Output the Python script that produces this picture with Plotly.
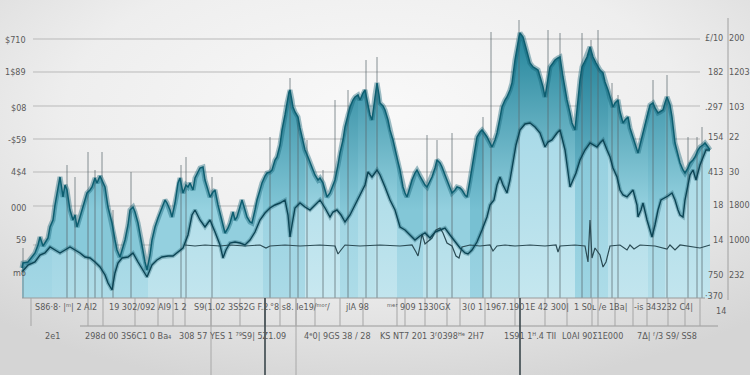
import base64
import numpy as np
import plotly.graph_objects as go

# ---------------- data (trading-day index, value) ----------------
days_upper = [0, 1, 6, 9, 13, 16, 18, 21, 23, 26, 28, 31, 33, 35, 38, 40, 41, 43, 45, 48, 51, 53, 55, 58, 61, 63, 65, 68, 70, 73,
              75, 78, 80, 83, 86, 88, 90, 93, 95, 98, 100, 103, 106, 108, 111, 113, 116, 118, 121, 123, 125, 128, 130, 133, 136, 140,
              143, 145, 148, 150, 153, 156, 158, 161, 164, 166, 168, 171, 173, 176, 178, 181, 183, 186, 188, 191, 193, 196, 198, 201,
              203, 206, 208, 211, 213, 215, 218, 220, 223, 225, 228, 230, 233, 235, 238, 240, 243, 245, 248, 250, 253, 255, 258, 260,
              263, 265, 267, 268, 270, 271, 273, 276, 278, 281, 283, 286, 288, 291, 293, 296, 298, 301, 303, 305, 308, 311, 313, 316,
              318, 321, 323, 326, 328, 331, 333, 336, 338, 341, 343, 346, 348, 350, 353, 355, 357, 358, 361, 363, 366, 368, 371, 373,
              376, 378, 381, 383, 385, 388, 390, 393, 395, 398, 400, 403, 405, 408, 410, 413, 415, 418, 420, 423, 425, 428, 430, 433,
              435, 438, 440, 443, 445, 448, 450, 453, 455, 458, 460, 463, 465, 468, 470, 473, 475, 478, 480, 483, 485, 488, 490, 493,
              495, 497, 498, 500, 501, 504, 506, 508, 511, 513, 516, 519, 521, 523, 526, 528, 531, 533, 536, 538, 541, 543, 545, 548,
              550, 553, 556, 558, 560, 563, 565, 568, 570, 571, 574, 576, 578, 581, 583, 586, 588, 591, 593, 596, 598, 601, 603, 606,
              608, 611, 613, 616, 618, 621, 623, 626, 628, 631, 633, 636, 638, 641, 643, 645, 648, 650, 653, 656, 658, 661, 663, 666,
              668, 671, 673, 676, 678, 681, 683, 686, 688]
price_upper = [30, 35, 36, 40, 45, 53, 61, 52, 55, 60, 71, 78, 93, 105, 121, 108, 101, 113, 108, 88, 78, 83, 71, 81, 91, 98, 105, 108, 111, 120,
               115, 122, 118, 111, 91, 83, 75, 58, 48, 41, 48, 58, 73, 88, 91, 86, 75, 63, 45, 36, 28, 43, 58, 71, 80, 91,
               98, 95, 88, 81, 95, 115, 120, 105, 113, 111, 115, 108, 120, 126, 130, 131, 118, 108, 101, 106, 108, 93, 85, 73,
               65, 70, 75, 86, 78, 81, 93, 98, 88, 81, 76, 75, 88, 98, 108, 115, 122, 125, 126, 128, 138, 141, 153, 168,
               183, 195, 206, 208, 198, 191, 186, 181, 170, 155, 148, 141, 135, 128, 123, 118, 120, 115, 108, 101, 105, 113, 118, 133,
               145, 158, 171, 183, 191, 198, 201, 203, 198, 205, 208, 193, 183, 178, 203, 215, 203, 195, 192, 188, 178, 168, 158, 148,
               136, 128, 111, 105, 101, 111, 118, 125, 128, 122, 118, 113, 111, 118, 121, 130, 138, 135, 131, 123, 118, 110, 105, 108,
               111, 110, 108, 103, 101, 118, 131, 148, 161, 166, 168, 164, 161, 155, 151, 158, 165, 180, 191, 198, 201, 208, 215, 238,
               251, 261, 265, 262, 261, 250, 241, 235, 231, 230, 228, 218, 211, 201, 218, 231, 235, 238, 240, 241, 221, 208, 198, 185,
               175, 168, 201, 218, 231, 238, 241, 251, 245, 241, 235, 231, 228, 225, 216, 208, 200, 191, 195, 198, 186, 175, 178, 181,
               170, 161, 153, 145, 153, 165, 176, 188, 193, 195, 190, 185, 186, 188, 195, 201, 193, 181, 155, 143, 135, 128, 125, 130,
               135, 138, 141, 148, 151, 153, 155, 151, 148]

days_lower = [0, 6, 13, 18, 23, 28, 33, 38, 43, 48, 53, 58, 63, 68, 73, 78, 83, 86, 90, 93, 96, 100, 106, 111, 116, 121, 125, 130, 135,
              140, 146, 151, 156, 161, 166, 170, 173, 178, 183, 188, 193, 198, 201, 204, 208, 213, 218, 223, 228, 233, 238, 243, 248,
              253, 258, 263, 266, 268, 270, 273, 278, 283, 288, 293, 298, 303, 308, 311, 315, 319, 323, 328, 333, 338, 343, 346, 350,
              355, 358, 363, 368, 373, 378, 383, 388, 393, 398, 403, 408, 413, 418, 423, 428, 433, 438, 443, 446, 450, 455, 460, 465,
              468, 472, 475, 478, 481, 485, 488, 491, 494, 498, 503, 508, 513, 518, 523, 526, 530, 535, 538, 543, 546, 548, 551, 554,
              558, 563, 568, 571, 575, 578, 581, 585, 588, 591, 595, 598, 601, 605, 608, 611, 615, 616, 619, 621, 625, 628, 630, 633,
              636, 639, 643, 646, 650, 653, 656, 658, 661, 663, 666, 668, 671, 674, 678, 681, 684, 688]
price_lower = [26, 33, 36, 43, 45, 51, 48, 45, 48, 51, 48, 45, 41, 40, 36, 31, 23, 15, 8, 25, 35, 40, 41, 45, 36, 28, 21, 33, 38,
               41, 42, 42, 46, 50, 63, 83, 88, 78, 71, 78, 66, 53, 40, 48, 55, 56, 55, 53, 58, 66, 78, 85, 90,
               93, 95, 98, 83, 61, 73, 90, 95, 91, 88, 93, 98, 90, 81, 86, 88, 83, 76, 83, 93, 102, 113, 126, 121,
               128, 123, 111, 98, 88, 71, 68, 63, 58, 62, 65, 60, 66, 68, 70, 63, 56, 50, 45, 44, 48, 56, 68, 81,
               93, 98, 113, 121, 113, 105, 118, 138, 153, 168, 174, 175, 171, 165, 151, 156, 158, 165, 168, 148, 128, 111, 118, 125,
               138, 148, 155, 153, 151, 155, 158, 148, 141, 130, 121, 108, 103, 101, 105, 108, 93, 81, 88, 95, 78, 68, 61, 73,
               88, 98, 100, 102, 105, 98, 88, 83, 81, 98, 113, 123, 128, 118, 133, 141, 148, 148]

days_flat = [163, 173, 183, 198, 208, 223, 238, 244, 248, 263, 278, 298, 313, 316, 319, 323, 338, 358, 378, 390, 394, 396, 398, 400,
             403, 410, 414, 418, 421, 425, 430, 434, 437, 440, 448, 458, 468, 471, 475, 483, 493, 508, 523, 534, 536, 538, 553, 563,
             566, 568, 570, 573, 578, 581, 584, 588, 598, 605, 608, 612, 618, 633, 645, 648, 653, 658, 678, 688]
price_flat = [53, 52, 53, 52, 53, 52, 53, 50, 52, 53, 52, 53, 52, 44, 48, 53, 52, 53, 52, 53, 46, 42, 52, 64,
              54, 60, 68, 70, 65, 55, 52, 42, 40, 51, 53, 52, 53, 47, 52, 53, 52, 53, 52, 53, 46, 52, 53, 52,
              36, 78, 40, 50, 43, 31, 36, 52, 53, 48, 53, 49, 53, 52, 49, 53, 48, 53, 50, 53]

spike_days = [1, 45, 53, 66, 73, 80, 91, 109, 159, 164, 190, 248, 268, 276, 285, 301, 313, 326, 344, 355, 405, 415, 430, 461,
              469, 497, 526, 538, 560, 569, 576, 590, 596, 631, 645, 666, 675, 680]
spike_tops = [50, 133, 121, 146, 128, 146, 88, 126, 133, 141, 121, 161, 220, 178, 158, 128, 198, 208, 238, 241, 163, 158, 165, 181,
              266, 278, 268, 265, 265, 258, 268, 215, 203, 218, 223, 161, 161, 171]

band_edges = [0, 30, 45, 81, 126, 163, 198, 241, 283, 318, 336, 353, 375, 401, 448, 461, 496, 553, 568, 586, 626, 643, 688]
band_tones = [0.7, 0.6, 0.5, 0.55, 0.25, 0.2, 0.3, 0.6, 0.1, 0.55, 0.3, 0.2, 0.6, 0.25, 0.85, 0.3, 0.15, 0.8, 0.55, 0.2, 0.45, 0.2]

sep_days = [9, 66, 81, 113, 136, 151, 163, 189, 218, 243, 258, 274, 293, 318, 341, 375, 383, 403, 425, 438, 463, 493, 523,
            545, 570, 576, 593, 611, 625, 646, 663, 678]
long_dark_days = [243, 498]
long_grey_days = [189, 274]
right_rule_day = [706]

grid_vals = [259, 226, 192, 159, 126, 92, 53]
left_vals = [258, 226, 190, 158, 126, 90, 58, 25]
left_text = ["$710", "1$89", "$08", "-$59", "4$4", "000", "59", "mo"]
right_vals = [260, 226, 191, 161, 126, 93, 58, 23, 2]
right_text_a = ["£/10", "182", ".297", "154", "413", "18", "14", "750", "·370"]
right_text_b = ["200", "1203", "103", "22", "30", "1800", "1000", "232", ""]

row1_days = [11, 85, 170, 246, 321, 363, 438, 501, 550, 610, 692]
row1_text = ["S86·8· |ᵐ| 2 AI2", "19 302/092 AI9 1 2", "S9(1.02 3SS2G F.2.", "°8 s8. le19/ᵐᵒʳ/", "jlA 98",
             "ᵐᵉʳ 909 1330GX", "3(0 1 1967.190", "1E 42 300|", "1 S0ʟ /e 1Ba|", "-is 343232 C4|", "14"]
row2_days = [21, 61, 155, 280, 356, 480, 538, 613]
row2_text = ["2e1", "298d 00 3S6C1 0 Ba₄", "308 57 YES 1 ⁷⁹S9| 5Z1.09", "4ᵉ0| 9GS 38 / 28",
             "KS NT7 201 3ᶠ0398ᴴᵉ 2H7", "1S91 1ᴴ.4 TII", "L0AI 90Σ1E000", "7Δ| ᶠ/3 S9/ SS8"]

# ---------------- helpers ----------------
def mix(c1, c2, t):
    return "rgb(%d,%d,%d)" % tuple(round(a + (b - a) * t) for a, b in zip(c1, c2))


def clip(xs, ys, a, b):
    xs = np.asarray(xs, float)
    ys = np.asarray(ys, float)
    m = (xs > a) & (xs < b)
    bx = np.concatenate([[a], xs[m], [b]])
    return bx, np.interp(bx, xs, ys)


def segs(xs, y0, y1):
    X, Y = [], []
    for i, x in enumerate(xs):
        X += [x, x, None]
        Y += [y0 if np.isscalar(y0) else y0[i], y1 if np.isscalar(y1) else y1[i], None]
    return X, Y


FONT = "DejaVu Sans Condensed, Liberation Sans Narrow, Arial Narrow, sans-serif"
fig = go.Figure()

# grid lines
gx, gy = [], []
for v in grid_vals:
    gx += [11, 678, None]
    gy += [v, v, None]
fig.add_trace(go.Scatter(x=gx, y=gy, mode="lines", line=dict(color="#b9b9b9", width=1), hoverinfo="skip"))

# upper area, split into shaded bands
for i, t in enumerate(band_tones):
    bx, by = clip(days_upper, price_upper, band_edges[i], band_edges[i + 1])
    bottom = mix((160, 215, 228), (112, 188, 207), t)
    top = mix((48, 142, 163), (28, 122, 145), t)
    fig.add_trace(go.Scatter(x=bx, y=by, mode="lines", line=dict(width=0), fill="tozeroy",
                             fillgradient=dict(type="vertical", start=0, stop=250,
                                               colorscale=[[0, bottom], [0.35, bottom], [1, top]]),
                             hoverinfo="skip"))

# lower area, lighter bands
for i, t in enumerate(band_tones):
    bx, by = clip(days_lower, price_lower, band_edges[i], band_edges[i + 1])
    bottom = mix((206, 235, 242), (146, 207, 223), t)
    top = mix((178, 223, 235), (120, 193, 212), t)
    fig.add_trace(go.Scatter(x=bx, y=by, mode="lines", line=dict(width=0), fill="tozeroy",
                             fillgradient=dict(type="vertical", start=0, stop=170,
                                               colorscale=[[0, bottom], [1, top]]),
                             hoverinfo="skip"))

# spikes
sx, sy = segs(spike_days, 0, spike_tops)
fig.add_trace(go.Scatter(x=sx, y=sy, mode="lines", line=dict(color="rgba(85,100,106,0.7)", width=1), hoverinfo="skip"))

# series lines (with soft dark rim under the main ones)
fig.add_trace(go.Scatter(x=days_flat, y=price_flat, mode="lines", line=dict(color="#2c4c55", width=1.2), hoverinfo="skip"))
fig.add_trace(go.Scatter(x=days_lower, y=price_lower, mode="lines",
                         line=dict(color="rgba(12,80,96,0.30)", width=4), hoverinfo="skip"))
fig.add_trace(go.Scatter(x=days_lower, y=price_lower, mode="lines", line=dict(color="#0b4454", width=1.4), hoverinfo="skip"))
fig.add_trace(go.Scatter(x=days_upper, y=price_upper, mode="lines",
                         line=dict(color="rgba(14,96,114,0.40)", width=5), hoverinfo="skip"))
fig.add_trace(go.Scatter(x=days_upper, y=price_upper, mode="lines", line=dict(color="#0d5e70", width=1.5), hoverinfo="skip"))

# axis base line, row divider, separators
fig.add_trace(go.Scatter(x=[0, 683, None, 58, 696], y=[0, 0, None, -28, -28], mode="lines",
                         line=dict(color="#9a9a9a", width=1), hoverinfo="skip"))
sx, sy = segs(sep_days, 0, -28)
fig.add_trace(go.Scatter(x=sx, y=sy, mode="lines", line=dict(color="#a5a5a5", width=1), hoverinfo="skip"))
sx, sy = segs(long_grey_days, 0, -77)
fig.add_trace(go.Scatter(x=sx, y=sy, mode="lines", line=dict(color="#a8a8a8", width=1), hoverinfo="skip"))
sx, sy = segs(long_dark_days, 0, -77)
fig.add_trace(go.Scatter(x=sx, y=sy, mode="lines", line=dict(color="#3a474c", width=1.6), hoverinfo="skip"))
sx, sy = segs(right_rule_day, -2, 280)
fig.add_trace(go.Scatter(x=sx, y=sy, mode="lines", line=dict(color="#a0a0a0", width=1), hoverinfo="skip"))

# labels
ann = []
lab = dict(family=FONT, size=9, color="#5a5a5a")
for v, s in zip(left_vals, left_text):
    ann.append(dict(x=6, y=v, text=s, xanchor="right", yanchor="middle", showarrow=False, font=lab))
for v, a, b in zip(right_vals, right_text_a, right_text_b):
    ann.append(dict(x=703, y=v, text=a, xanchor="right", yanchor="middle", showarrow=False, font=lab))
    if b:
        ann.append(dict(x=705, y=v, text=b, xanchor="left", yanchor="middle", showarrow=False, font=lab))
for d, s in zip(row1_days, row1_text):
    yy = -13 if s == "14" else -9
    ann.append(dict(x=d, y=yy, text=s, xanchor="left", yanchor="middle", showarrow=False, font=lab))
for d, s in zip(row2_days, row2_text):
    ann.append(dict(x=d, y=-38, text=s, xanchor="left", yanchor="middle", showarrow=False, font=lab))

svg = ('<svg xmlns="http://www.w3.org/2000/svg" width="750" height="375"><defs>'
       '<radialGradient id="g" cx="50%" cy="30%" r="75%">'
       '<stop offset="0" stop-color="#f9f9f9"/><stop offset="0.55" stop-color="#eeeeee"/>'
       '<stop offset="1" stop-color="#d5d5d5"/></radialGradient></defs>'
       '<rect width="750" height="375" fill="url(#g)"/></svg>')
bg = "data:image/svg+xml;base64," + base64.b64encode(svg.encode()).decode()

fig.update_layout(
    width=750, height=375, margin=dict(l=0, r=0, t=0, b=0),
    paper_bgcolor="#ececec", plot_bgcolor="rgba(0,0,0,0)", showlegend=False,
    xaxis=dict(range=[-22, 728], visible=False, fixedrange=True),
    yaxis=dict(range=[-77, 298], visible=False, fixedrange=True),
    annotations=ann,
    images=[dict(source=bg, xref="paper", yref="paper", x=0, y=1, sizex=1, sizey=1,
                 xanchor="left", yanchor="top", sizing="stretch", layer="below")],
)
fig.write_html("out.html", config=dict(displayModeBar=False),
               post_script="document.body.style.margin='0';document.body.style.overflow='hidden';")
